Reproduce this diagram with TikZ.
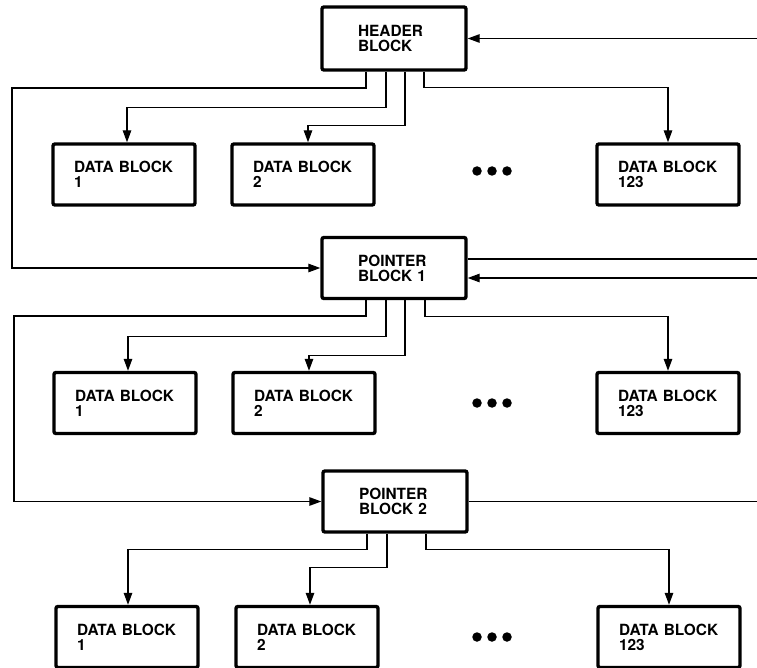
\documentclass[tikz,border=0pt]{standalone}
\usepackage{fontspec}
\setmainfont{TeX Gyre Heros}
\usetikzlibrary{positioning,arrows.meta}

\begin{document}
\begin{tikzpicture}[
  x=1pt, y=-1pt,
  blk/.style={draw, line width=3.4pt, rounded corners=2pt, align=left,
              font=\bfseries\fontsize{15.4}{15}\selectfont, inner ysep=0pt,
              minimum height=61pt, fill=white},
  ptrblk/.style={blk, text width=72pt, inner xsep=36pt},
  datablk/.style={blk, text width=100pt, inner xsep=21pt},
  arr/.style={-{Triangle[length=12pt,width=8.5pt]}, line width=1.3pt},
  link/.style={line width=1.3pt},
  dot/.style={circle, fill, inner sep=0pt, minimum size=9.5pt}
]
\useasboundingbox (0,0) rectangle (757,668);
\node[ptrblk, minimum height=63pt] (hdr) at (394,38.5) {HEADER\\BLOCK};
\node[datablk] (db11) at (124,174.5) {DATA BLOCK\\1};
\node[datablk] (db12) at (303,174.5) {DATA BLOCK\\2};
\node[datablk] (db13) at (668,174.5) {DATA BLOCK\\123};
\node[ptrblk] (ptr1) at (394,268) {POINTER\\BLOCK 1};
\node[datablk] (db21) at (125,403) {DATA BLOCK\\1};
\node[datablk] (db22) at (304,403) {DATA BLOCK\\2};
\node[datablk] (db23) at (668,403) {DATA BLOCK\\123};
\node[ptrblk] (ptr2) at (395,501.5) {POINTER\\BLOCK 2};
\node[datablk] (db31) at (127,637) {DATA BLOCK\\1};
\node[datablk] (db32) at (307,637) {DATA BLOCK\\2};
\node[datablk] (db33) at (669,637) {DATA BLOCK\\123};
% ellipsis dots
\node[dot] (d1a) at (477,171) {};
\node[dot] (d1b) at (492,171) {};
\node[dot] (d1c) at (507,171) {};
\node[dot] (d2a) at (477,403) {};
\node[dot] (d2b) at (492,403) {};
\node[dot] (d2c) at (507,403) {};
\node[dot] (d3a) at (477,637) {};
\node[dot] (d3b) at (492,637) {};
\node[dot] (d3c) at (507,637) {};
% loose ends at the right margin
\coordinate (in0) at (757,38.5);
\coordinate (out1) at (757,259);
\coordinate (in1) at (757,278);
\coordinate (out2) at (757,501.5);
% header block
\draw[arr] (in0) -- (hdr.east);
\draw[arr] ([xshift=-28]hdr.south) |- (12,88) |- (ptr1.west);
\draw[arr] ([xshift=-8]hdr.south) -- ++(0,36) -| ([xshift=3]db11.north);
\draw[arr] ([xshift=11]hdr.south) -- ++(0,54) -| ([xshift=5]db12.north);
\draw[arr] ([xshift=30]hdr.south) -- ++(0,16) -| (db13.north);
% pointer block 1
\draw[link] ([yshift=9]ptr1.east) -- (out1);
\draw[arr] (in1) -- ([yshift=-10]ptr1.east);
\draw[arr] ([xshift=-28]ptr1.south) |- (14,316) |- (ptr2.west);
\draw[arr] ([xshift=-8]ptr1.south) -- ++(0,36) -| ([xshift=3]db21.north);
\draw[arr] ([xshift=11]ptr1.south) -- ++(0,55) -| ([xshift=5]db22.north);
\draw[arr] ([xshift=31]ptr1.south) -- ++(0,16) -| (db23.north);
% pointer block 2
\draw[link] (ptr2.east) -- (out2);
\draw[arr] ([xshift=-28]ptr2.south) -- ++(0,16) -| ([xshift=1]db31.north);
\draw[arr] ([xshift=-8]ptr2.south) -- ++(0,34) -| ([xshift=3]db32.north);
\draw[arr] ([xshift=31]ptr2.south) -- ++(0,16) -| (db33.north);
\end{tikzpicture}
\end{document}
